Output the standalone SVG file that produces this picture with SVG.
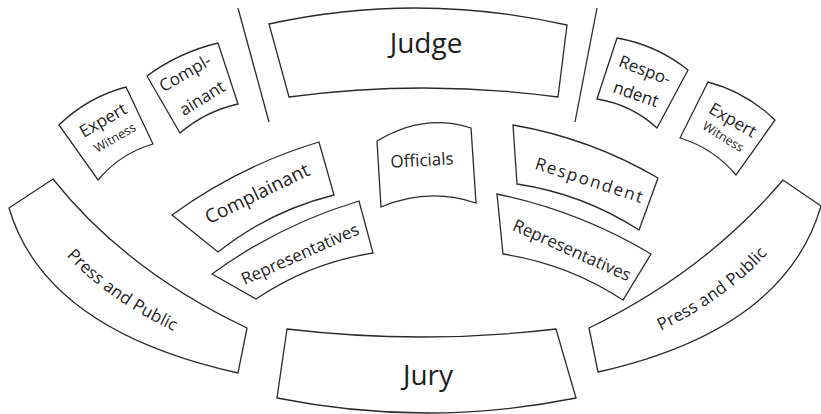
<svg xmlns="http://www.w3.org/2000/svg" width="821" height="414" viewBox="0 0 821 414">
<style>
.box{fill:#fff;stroke:#2a2a2a;stroke-width:1.3;stroke-linejoin:miter}
.ln{stroke:#2a2a2a;stroke-width:1.3;fill:none}
text{font-family:"Open Sans","Noto Sans","Liberation Sans",sans-serif;fill:#1e1e1e;text-anchor:middle}
.big{font-size:28px}
.mid{font-size:19px}
.sm{font-size:17px}
.xs{font-size:12.5px}
</style>
<defs>
<path id="pL" d="M31 193.5 Q85 300 242.5 350.5"/>
<path id="pR" d="M593.5 350 Q745 301 802 192.5"/>
</defs>
<rect width="821" height="414" fill="#fff"/>
<g id="dividers">
<line class="ln" x1="238" y1="8" x2="269" y2="122"/>
<line class="ln" x1="597" y1="8" x2="575" y2="122"/>
</g>
<g id="judge">
<path class="box" d="M269 24 Q418 -8.5 567 25 L558 97 Q423.5 79 289 97 Z"/>
<text class="big" x="426" y="53">Judge</text>
</g>
<g id="jury">
<path class="box" d="M287 329 Q421.5 345 556 329 L576 398 Q426.5 428 277 398 Z"/>
<text class="big" x="428" y="385">Jury</text>
</g>
<g id="expert-left">
<path class="box" d="M59 125 Q87.6 97.2 126 87 L153 144 Q120 153.6 98 180 Z"/>
<text class="sm" transform="translate(103,120) rotate(-30)" y="6">Expert</text>
<text class="xs" transform="translate(115,138) rotate(-30)" y="4">Witness</text>
</g>
<g id="complainant-small">
<path class="box" d="M147 76 Q179.1 52.3 218 43 L238 104 Q205.4 111.3 180 133 Z"/>
<text class="sm" transform="translate(185,73) rotate(-30)" y="6">Compl-</text>
<text class="sm" transform="translate(202,98) rotate(-32)" y="6">ainant</text>
</g>
<g id="respondent-small">
<path class="box" d="M617 38 Q656.6 44.9 688 70 L657 128 Q631.4 104.5 597 99 Z"/>
<text class="sm" transform="translate(645,70) rotate(21)" y="6">Respo-</text>
<text class="sm" transform="translate(636,94) rotate(19)" y="6">ndent</text>
</g>
<g id="expert-right">
<path class="box" d="M708 82 Q746.4 92.3 775 120 L736 175 Q713.5 148.2 680 138 Z"/>
<text class="sm" transform="translate(733,120) rotate(30)" y="6">Expert</text>
<text class="xs" transform="translate(723,137) rotate(32)" y="4">Witness</text>
</g>
<g id="officials">
<path class="box" d="M377 141 Q424 112.5 471 128 L476 203 Q428.5 187 381 207 Z"/>
<text class="sm" transform="translate(422,160) rotate(-3)" y="6" font-size="18">Officials</text>
</g>
<g id="complainant">
<path class="box" d="M172 215 Q239.3 165.9 319 142 L334 195 Q269.8 210.9 218 252 Z"/>
<text class="mid" transform="translate(257,193) rotate(-26)" y="7" font-size="20">Complainant</text>
</g>
<g id="representatives-left">
<path class="box" d="M212 274 Q279.3 224.9 359 201 L373 253 Q309.4 263 256 299 Z"/>
<text class="sm" transform="translate(300,254) rotate(-24)" y="6" font-size="16.5">Representatives</text>
</g>
<g id="respondent">
<path class="box" d="M513 125 Q590.3 138.4 658 178 L639 230 Q582.9 193.9 517 184 Z"/>
<text class="sm" transform="translate(589,180) rotate(18)" y="6" textLength="112">Respondent</text>
</g>
<g id="representatives-right">
<path class="box" d="M497 194 Q579.1 211 651 254 L623 300 Q568 264 503 254 Z"/>
<text class="sm" transform="translate(572,250) rotate(24)" y="6" font-size="16.5">Representatives</text>
</g>
<g id="press-left">
<path class="box" d="M9 208 L53 179 Q125 270 247 328 L238 373 Q45 330 9 208 Z"/>
<text class="sm" dominant-baseline="central"><textPath href="#pL" startOffset="50%">Press and Public</textPath></text>
</g>
<g id="press-right">
<path class="box" d="M821 206 L783 180 Q705 272 589 328 L598 372 Q785 330 821 206 Z"/>
<text class="sm" dominant-baseline="central"><textPath href="#pR" startOffset="50%">Press and Public</textPath></text>
</g>
</svg>
